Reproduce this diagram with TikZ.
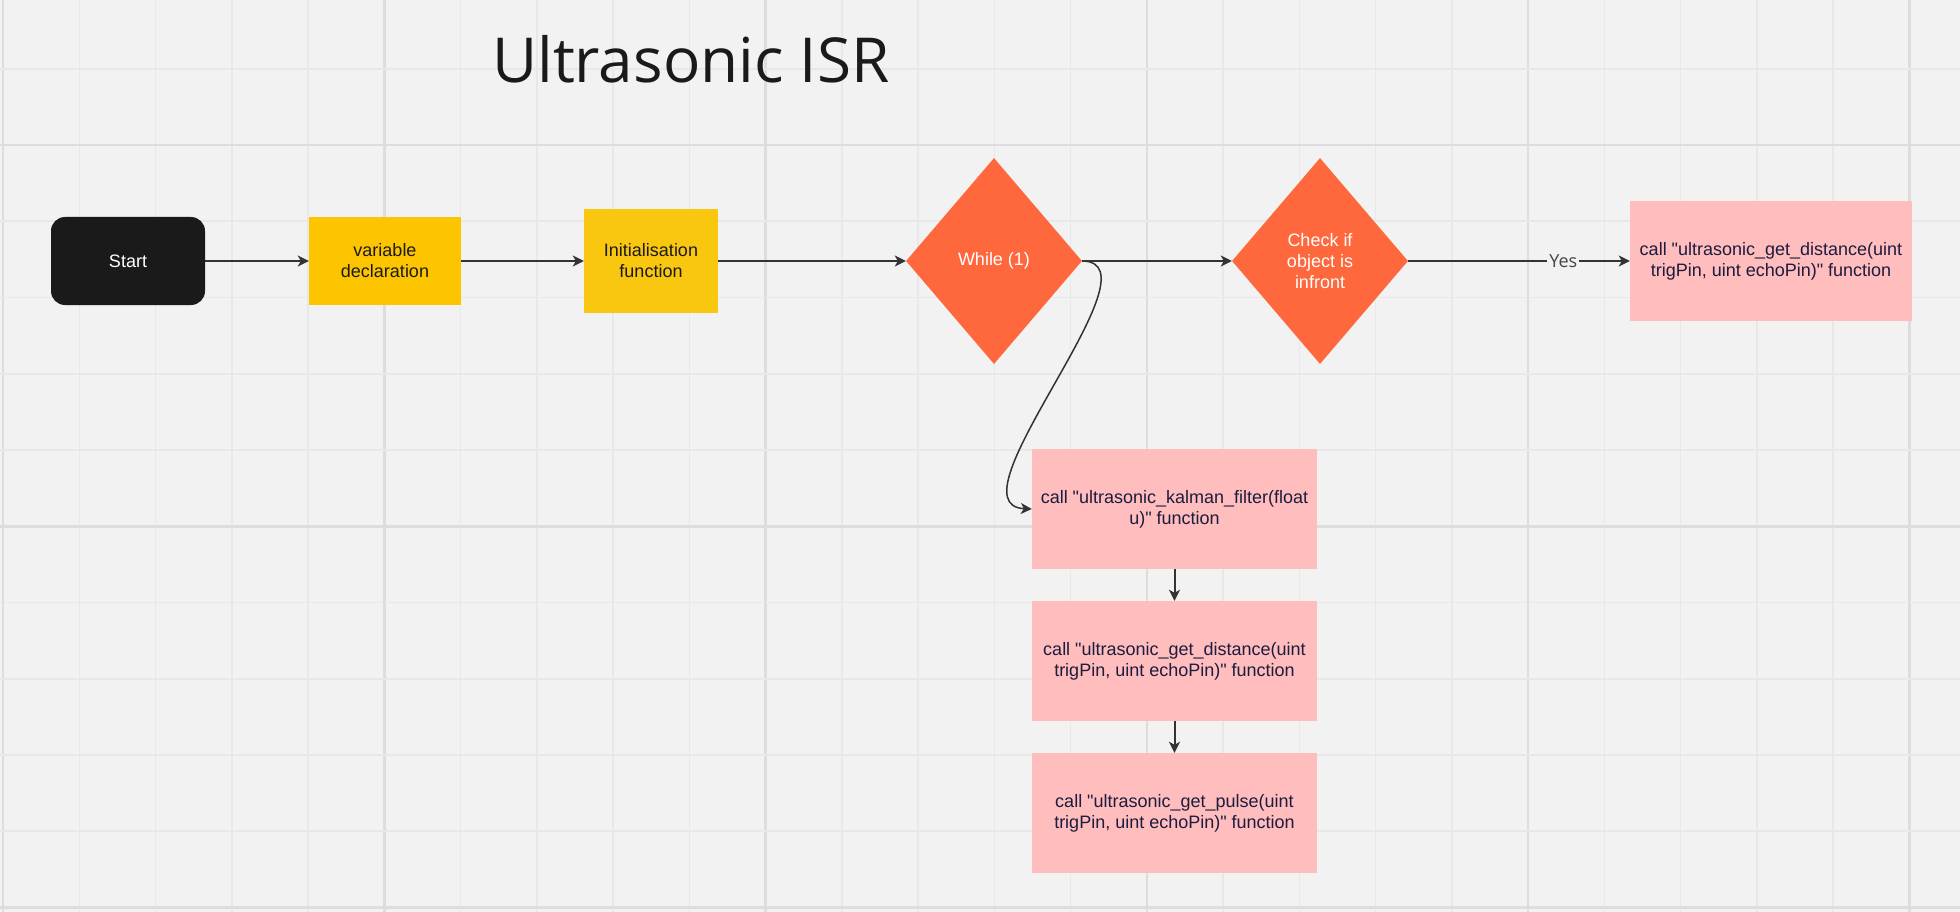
\documentclass[tikz,border=0pt]{standalone}
\usepackage{fontspec}
\setmainfont{Liberation Sans}
\newfontfamily\boxfont{Liberation Sans}
\newfontfamily\titlefont{Open Sans}
\usetikzlibrary{arrows.meta,shapes.geometric}
\definecolor{bg}{HTML}{F2F2F2}
\definecolor{gridminor}{HTML}{E8E8E8}
\definecolor{gridmajor}{HTML}{DDDDDD}
\definecolor{startfill}{HTML}{1A1A1A}
\definecolor{yellowA}{HTML}{FDC500}
\definecolor{yellowB}{HTML}{FAC710}
\definecolor{orangefill}{HTML}{FF673D}
\definecolor{pinkfill}{HTML}{FFBDBD}
\definecolor{navytext}{HTML}{1C1C3E}
\definecolor{linecol}{HTML}{333333}
\definecolor{labelcol}{HTML}{444444}
\tikzset{
  minorline/.style={gridminor, line width=1.6pt},
  majorline/.style={gridmajor, line width=2.6pt},
  basebox/.style={draw=none, inner sep=0pt, align=center, font=\boxfont\fontsize{18}{21}\selectfont},
  startbox/.style={basebox, fill=startfill, text=white, rounded corners=14pt, minimum width=154pt, minimum height=88pt},
  yellowbox/.style={basebox, text=startfill},
  decision/.style={basebox, diamond, fill=orangefill, text=white, minimum width=176pt, minimum height=206pt, aspect=0.854},
  callbox/.style={basebox, fill=pinkfill, text=navytext, minimum width=284pt, minimum height=120pt},
  conn/.style={draw=linecol, line width=2pt, -{Stealth[length=11pt,width=11pt,inset=3pt]}},
}
\begin{document}
\begin{tikzpicture}[x=1pt,y=-1pt]
\fill[bg] (0,0) rectangle (1960,912);
\useasboundingbox (0,0) rectangle (1960,912);
% grid
\foreach \k in {0,...,25}{
  \pgfmathsetmacro\xx{3.1+76.25*\k}
  \pgfmathtruncatemacro\mm{mod(\k,5)}
  \ifnum\mm=0 \draw[majorline] (\xx,0) -- (\xx,912); \else \draw[minorline] (\xx,0) -- (\xx,912); \fi
}
\foreach \k in {1,...,12}{
  \pgfmathsetmacro\yy{-7.5+76.25*\k}
  \pgfmathtruncatemacro\mm{mod(\k,5)}
  \ifnum\mm=2 \draw[majorline] (0,\yy) -- (1960,\yy); \else \draw[minorline] (0,\yy) -- (1960,\yy); \fi
}
% title
\node[anchor=base west, inner sep=0pt, text=startfill, font=\titlefont\fontsize{62}{70}\selectfont] (title) at (492,83) {Ultrasonic ISR};
% nodes
\node[startbox] (start) at (128,261) {Start};
\node[yellowbox, fill=yellowA, minimum width=152pt, minimum height=88pt] (var) at (385,261) {variable\\declaration};
\node[yellowbox, fill=yellowB, minimum width=134pt, minimum height=104pt] (init) at (651,261) {Initialisation\\function};
\node[decision] (while) at (994,261) {While (1)};
\node[decision] (check) at (1320,261) {Check if\\object is\\infront};
\node[callbox, minimum width=282pt] (right) at (1771,261) {call "ultrasonic\_get\_distance(uint\\trigPin, uint echoPin)" function};
\node[callbox, minimum width=285pt] (kal) at (1174.5,509) {call "ultrasonic\_kalman\_filter(float\\u)" function};
\node[callbox, minimum width=285pt] (dist) at (1174.5,661) {call "ultrasonic\_get\_distance(uint\\trigPin, uint echoPin)" function};
\node[callbox, minimum width=285pt] (pulse) at (1174.5,813) {call "ultrasonic\_get\_pulse(uint\\trigPin, uint echoPin)" function};
% connectors
\draw[conn] (start.east) -- (var.west);
\draw[conn] (var.east) -- (init.west);
\draw[conn] (init.east) -- (while.west);
\draw[conn] (while.east) -- (check.west);
\draw[conn] (check.east) -- node[pos=0.7, fill=bg, inner sep=2pt, text=labelcol, font=\titlefont\fontsize{18}{21}\selectfont] {Yes} (right.west);
\draw[conn, line width=1.5pt] (while.east) .. controls (1165,262) and (945,505) .. (kal.west);
\draw[conn] (kal.south) -- (dist.north);
\draw[conn] (dist.south) -- (pulse.north);
\end{tikzpicture}
\end{document}
